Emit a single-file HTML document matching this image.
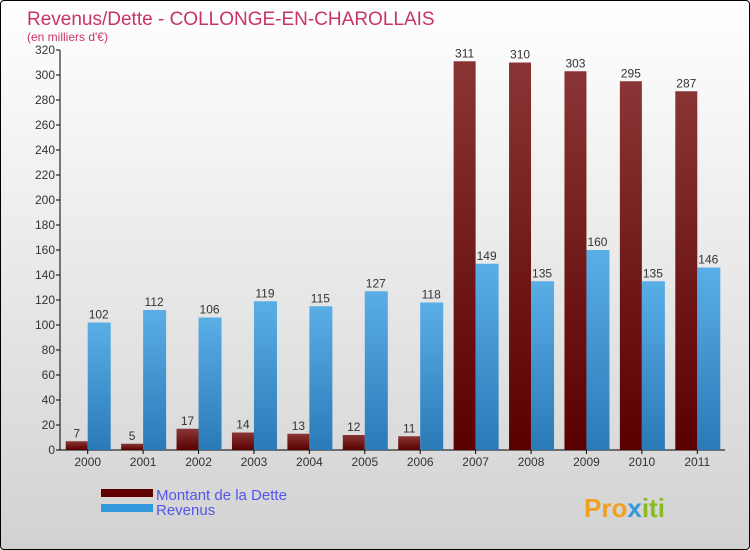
<!DOCTYPE html>
<html><head><meta charset="utf-8"><style>
body{margin:0}
#wrap{position:relative;width:748px;height:548px;border:1px solid #000;border-radius:4px;background:linear-gradient(#ffffff,#d2d2d2);overflow:hidden;font-family:"Liberation Sans",sans-serif}
</style></head><body>
<div id="wrap">
<svg id="c" width="748" height="548">
<defs>
<linearGradient id="gd" x1="0" y1="0" x2="0" y2="1"><stop offset="0" stop-color="#8a3535"/><stop offset="1" stop-color="#5a0000"/></linearGradient>
<linearGradient id="gr" x1="0" y1="0" x2="0" y2="1"><stop offset="0" stop-color="#5aaee6"/><stop offset="1" stop-color="#2a7ab8"/></linearGradient>
</defs>
<text x="26" y="24" font-size="19" fill="#c8336a">Revenus/Dette - COLLONGE-EN-CHAROLLAIS</text>
<text x="26" y="40" font-size="12" fill="#c8336a">(en milliers d'€)</text>
<g id="axes"></g><g id="bars"></g>
<rect x="100" y="488" width="52" height="8" fill="#600000"/>
<rect x="100" y="503" width="52" height="8" fill="#3399dd"/>
<text x="155" y="499" font-size="15" fill="#5555ee">Montant de la Dette</text>
<text x="155" y="514" font-size="15" fill="#5555ee">Revenus</text>
<text x="583" y="516" font-size="26" font-weight="bold" fill="#f0a020">Pro<tspan fill="#3399dd">x</tspan><tspan fill="#88bb22">iti</tspan></text>
</svg></div>
<script>
const years=["2000","2001","2002","2003","2004","2005","2006","2007","2008","2009","2010","2011"];
const dette=[7,5,17,14,13,12,11,311,310,303,295,287];
const revenus=[102,112,106,119,115,127,118,149,135,160,135,146];
const yTicks=[0,20,40,60,80,100,120,140,160,180,200,220,240,260,280,300,320];
const NS="http://www.w3.org/2000/svg";
const X0=59,X1=724,Y0=449,Y1=49,MAX=320;
const step=(X1-X0)/years.length;
const y=v=>Y0-(v/MAX)*(Y0-Y1);
const cx=i=>X0+(i+0.5)*step;
function mk(t,a,p){const e=document.createElementNS(NS,t);for(const k in a)e.setAttribute(k,a[k]);p.appendChild(e);return e;}
const ax=document.getElementById('axes'),bg=document.getElementById('bars');
let l=mk('line',{x1:X0,y1:Y1,x2:X0,y2:Y0,stroke:'#000'},ax);


l=mk('line',{x1:X0,y1:Y0,x2:X1,y2:Y0,stroke:'#000'},ax);


yTicks.forEach(v=>{
 const t=mk('line',{x1:X0-4,y1:y(v),x2:X0,y2:y(v),stroke:'#000'},ax);
 
 
 const tx=mk('text',{x:X0-5,y:y(v)+4,'font-size':12,'text-anchor':'end',fill:'#333'},ax);
 tx.textContent=v;
 
 
});
years.forEach((yr,i)=>{
 const c=cx(i),w=22;
 const t=mk('line',{x1:c,y1:Y0,x2:c,y2:Y0+4,stroke:'#000'},ax);
 
 
 const tx=mk('text',{x:c,y:Y0+16,'font-size':12,'text-anchor':'middle',fill:'#333'},ax);
 tx.textContent=yr;
 
 
 const b1=mk('rect',{x:c-w,y:y(dette[i]),width:w,height:Y0-y(dette[i]),fill:'url(#gd)'},bg);
 
 
 const b2=mk('rect',{x:c,y:y(revenus[i]),width:w+1,height:Y0-y(revenus[i]),fill:'url(#gr)'},bg);
 
 
 const v1=mk('text',{x:c-w/2,y:y(dette[i])-4,'font-size':12,'text-anchor':'middle',fill:'#333'},bg);
 v1.textContent=dette[i];
 
 
 const v2=mk('text',{x:c+w/2,y:y(revenus[i])-4,'font-size':12,'text-anchor':'middle',fill:'#333'},bg);
 v2.textContent=revenus[i];
 
 
});
</script>
</body></html>
